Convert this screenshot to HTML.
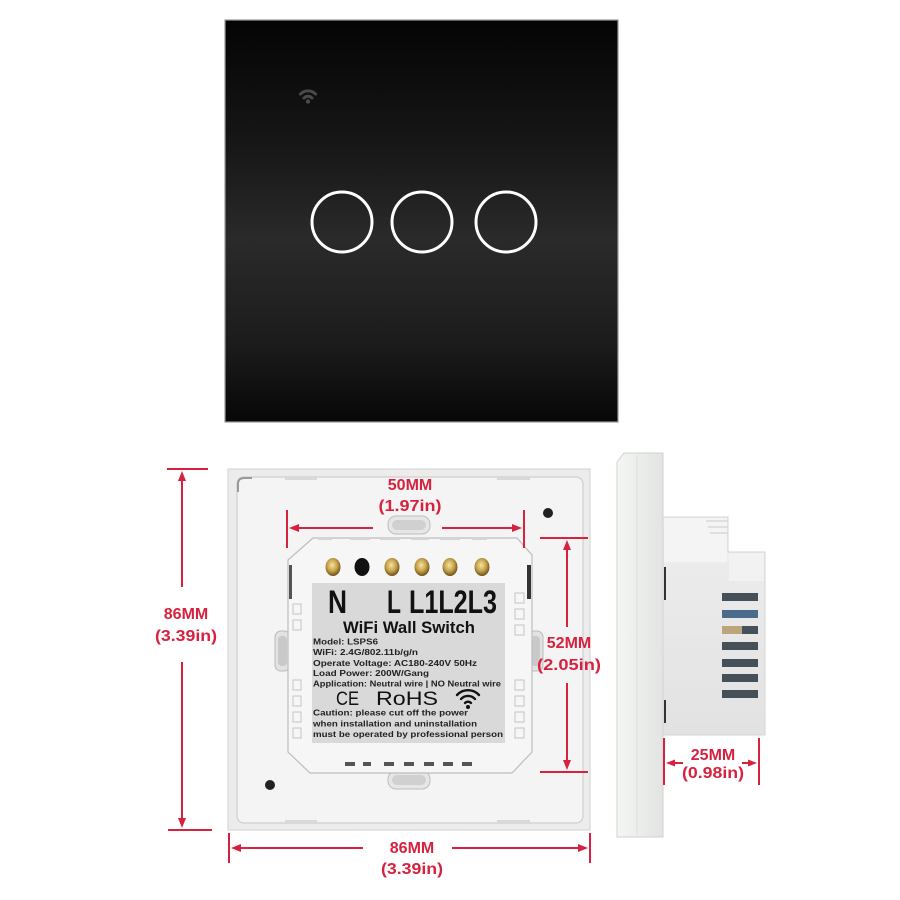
<!DOCTYPE html>
<html><head><meta charset="utf-8"><style>
html,body{margin:0;padding:0;background:#fff;}
svg{display:block;}
text{font-family:"Liberation Sans",sans-serif;}
</style></head><body>
<svg width="900" height="900" viewBox="0 0 900 900" xmlns="http://www.w3.org/2000/svg">
<defs>
<linearGradient id="glass" x1="0" y1="0" x2="0" y2="1">
<stop offset="0" stop-color="#040404"/>
<stop offset="0.3" stop-color="#161616"/>
<stop offset="0.55" stop-color="#2a2a2a"/>
<stop offset="0.8" stop-color="#1c1c1c"/>
<stop offset="1" stop-color="#070707"/>
</linearGradient>
<radialGradient id="brass" cx="0.45" cy="0.4" r="0.6">
<stop offset="0" stop-color="#f4e3a0"/>
<stop offset="0.55" stop-color="#c9a24a"/>
<stop offset="1" stop-color="#6a5118"/>
</radialGradient>
<linearGradient id="side" x1="0" y1="0" x2="1" y2="0">
<stop offset="0" stop-color="#f4f6f4"/>
<stop offset="1" stop-color="#e2e4e2"/>
</linearGradient>
<linearGradient id="body" x1="0" y1="0" x2="0" y2="1">
<stop offset="0" stop-color="#eeeeee"/>
<stop offset="1" stop-color="#e2e2e2"/>
</linearGradient>
</defs>

<!-- Top black glass panel -->
<rect x="225" y="20" width="393" height="402" fill="url(#glass)" stroke="#9a9a9a" stroke-width="1.2"/>
<g fill="none" stroke="#4a4a4a" stroke-width="3" stroke-linecap="round">
<path d="M300.5,94 A10.5,10.5 0 0 1 315.5,94"/>
<path d="M304,98 A5.5,5.5 0 0 1 312,98"/>
</g>
<circle cx="308" cy="101.5" r="2.2" fill="#4a4a4a"/>
<g fill="none" stroke="#ffffff" stroke-width="3">
<circle cx="342" cy="222" r="30"/>
<circle cx="422" cy="222" r="30"/>
<circle cx="506" cy="222" r="30"/>
</g>

<!-- Back plate -->
<rect x="228" y="469" width="362" height="361" fill="#ececec" stroke="#d2d2d2" stroke-width="1"/>
<rect x="237" y="477" width="346" height="346" rx="7" fill="#f4f4f4" stroke="#cfcfcf" stroke-width="1.2"/>
<path d="M238,492 L238,484 Q238,478 244,478 L252,478" fill="none" stroke="#999" stroke-width="2"/>
<rect x="285" y="477" width="32" height="3" fill="#d8d8d8"/>
<rect x="497" y="477" width="33" height="3" fill="#d8d8d8"/>
<rect x="285" y="820" width="32" height="3" fill="#d8d8d8"/>
<rect x="497" y="820" width="33" height="3" fill="#d8d8d8"/>
<circle cx="548" cy="513" r="5" fill="#222"/>
<circle cx="270" cy="785" r="5" fill="#222"/>

<!-- slots -->
<rect x="388" y="516" width="42" height="18" rx="8" fill="#e6e6e6" stroke="#bdbdbd"/>
<rect x="392" y="520" width="34" height="10" rx="5" fill="#d0d0d0"/>
<rect x="388" y="771" width="42" height="18" rx="8" fill="#e6e6e6" stroke="#bdbdbd"/>
<rect x="392" y="775" width="34" height="10" rx="5" fill="#d0d0d0"/>
<rect x="275" y="631" width="15" height="40" rx="6" fill="#e2e2e2" stroke="#bbb"/>
<rect x="278" y="636" width="9" height="30" rx="4" fill="#c9c9c9"/>
<rect x="528" y="631" width="15" height="40" rx="6" fill="#e2e2e2" stroke="#bbb"/>
<rect x="531" y="636" width="9" height="30" rx="4" fill="#c9c9c9"/>

<!-- Module -->
<polygon points="313,538 517,538 532,555 532,752 512,773 310,773 288,752 288,560" fill="#f6f6f6" stroke="#bdbdbd" stroke-width="1.2"/>
<g fill="#d4d4d4">
<rect x="318" y="537" width="14" height="3"/><rect x="350" y="537" width="20" height="3"/>
<rect x="380" y="537" width="20" height="3"/><rect x="411" y="537" width="18" height="3"/>
<rect x="440" y="537" width="20" height="3"/><rect x="472" y="537" width="15" height="3"/>
</g>
<g fill="#555">
<rect x="345" y="762" width="10" height="4"/><rect x="363" y="762" width="8" height="4"/>
<rect x="384" y="762" width="10" height="4"/><rect x="404" y="762" width="10" height="4"/>
<rect x="424" y="762" width="10" height="4"/><rect x="443" y="762" width="10" height="4"/>
<rect x="462" y="762" width="10" height="4"/>
</g>
<rect x="289" y="565" width="3" height="34" fill="#555"/>
<rect x="527" y="565" width="4" height="34" fill="#333"/>
<g fill="none" stroke="#c4c4c4" stroke-width="1">
<rect x="293" y="604" width="8" height="10"/><rect x="293" y="620" width="8" height="10"/>
<rect x="293" y="680" width="8" height="10"/><rect x="293" y="696" width="8" height="10"/>
<rect x="293" y="712" width="8" height="10"/><rect x="293" y="728" width="8" height="10"/>
<rect x="515" y="593" width="9" height="10"/><rect x="515" y="609" width="9" height="10"/>
<rect x="515" y="625" width="9" height="10"/><rect x="515" y="680" width="9" height="10"/>
<rect x="515" y="696" width="9" height="10"/><rect x="515" y="712" width="9" height="10"/>
<rect x="515" y="728" width="9" height="10"/>
</g>

<!-- terminals -->
<ellipse cx="333" cy="567" rx="7.5" ry="9" fill="url(#brass)"/>
<ellipse cx="362" cy="567" rx="7.5" ry="9" fill="#111"/>
<ellipse cx="392" cy="567" rx="7.5" ry="9" fill="url(#brass)"/>
<ellipse cx="422" cy="567" rx="7.5" ry="9" fill="url(#brass)"/>
<ellipse cx="450" cy="567" rx="7.5" ry="9" fill="url(#brass)"/>
<ellipse cx="482" cy="567" rx="7.5" ry="9" fill="url(#brass)"/>

<!-- Label -->
<rect x="312" y="583" width="193" height="160" fill="#d9d9d9"/>
<text x="328" y="613" font-size="32" font-weight="bold" fill="#111" textLength="19" lengthAdjust="spacingAndGlyphs">N</text>
<text x="387" y="613" font-size="32" font-weight="bold" fill="#111" textLength="14" lengthAdjust="spacingAndGlyphs">L</text>
<text x="409" y="613" font-size="32" font-weight="bold" fill="#111" textLength="88" lengthAdjust="spacingAndGlyphs">L1L2L3</text>
<text x="343" y="633" font-size="16.5" font-weight="bold" fill="#111" textLength="132" lengthAdjust="spacingAndGlyphs">WiFi Wall Switch</text>
<g font-size="8.6" font-weight="bold" fill="#222">
<text x="313" y="644.5" textLength="65" lengthAdjust="spacingAndGlyphs">Model: LSPS6</text>
<text x="313" y="655" textLength="105" lengthAdjust="spacingAndGlyphs">WiFi:  2.4G/802.11b/g/n</text>
<text x="313" y="666" textLength="164" lengthAdjust="spacingAndGlyphs">Operate Voltage:  AC180-240V 50Hz</text>
<text x="313" y="676" textLength="116" lengthAdjust="spacingAndGlyphs">Load Power:  200W/Gang</text>
<text x="313" y="686.5" textLength="188" lengthAdjust="spacingAndGlyphs">Application:  Neutral wire | NO Neutral wire</text>
<text x="313" y="715.5" textLength="155" lengthAdjust="spacingAndGlyphs">Caution:  please cut off the power</text>
<text x="313" y="726.5" textLength="164" lengthAdjust="spacingAndGlyphs">when installation and uninstallation</text>
<text x="313" y="737" textLength="190" lengthAdjust="spacingAndGlyphs">must be operated by professional person</text>
</g>
<text x="336" y="705" font-size="19" fill="#111" textLength="23" lengthAdjust="spacingAndGlyphs">CE</text>
<text x="376" y="705" font-size="19" fill="#111" textLength="62" lengthAdjust="spacingAndGlyphs">RoHS</text>
<g fill="none" stroke="#111" stroke-width="2.4" stroke-linecap="round">
<path d="M457,695 A15,15 0 0 1 479,695"/>
<path d="M461,699 A9.5,9.5 0 0 1 475,699"/>
<path d="M465,703 A4,4 0 0 1 471,703"/>
</g>
<circle cx="468" cy="707" r="2" fill="#111"/>

<!-- Side view -->
<polygon points="617,462 624,453 663,453 663,837 617,837" fill="url(#side)" stroke="#cfd2cf" stroke-width="1"/>
<line x1="637" y1="455" x2="637" y2="835" stroke="#dde0dd" stroke-width="1"/>
<polygon points="663,517 728,517 728,552 765,552 765,735 663,735" fill="url(#body)" stroke="#d4d4d4" stroke-width="1"/>
<rect x="664" y="518" width="63" height="44" fill="#f4f4f4"/>
<rect x="729" y="553" width="35" height="28" fill="#f2f2f2"/>
<g stroke="#d8d8d8" stroke-width="1.5">
<line x1="706" y1="521" x2="728" y2="521"/><line x1="708" y1="527" x2="728" y2="527"/>
<line x1="710" y1="533" x2="728" y2="533"/>
</g>
<rect x="664" y="567" width="2" height="33" fill="#333"/>
<rect x="664" y="700" width="2" height="23" fill="#333"/>
<g fill="#465058">
<rect x="722" y="593" width="36" height="8"/>
<rect x="722" y="610" width="36" height="8" fill="#4a6b8a"/>
<rect x="722" y="626" width="36" height="8"/>
<rect x="722" y="642" width="36" height="8"/>
<rect x="722" y="659" width="36" height="8"/>
<rect x="722" y="674" width="36" height="8"/>
<rect x="722" y="690" width="36" height="8"/>
</g>
<rect x="722" y="626" width="20" height="8" fill="#bca57a"/>

<!-- Dimensions (red) -->
<g stroke="#d7223f" stroke-width="2" fill="none">
<line x1="287" y1="510" x2="287" y2="548"/><line x1="524" y1="510" x2="524" y2="548"/>
<line x1="295" y1="528" x2="373" y2="528"/><line x1="442" y1="528" x2="516" y2="528"/>
<line x1="540" y1="538" x2="588" y2="538"/><line x1="540" y1="772" x2="588" y2="772"/>
<line x1="567" y1="546" x2="567" y2="627"/><line x1="567" y1="683" x2="567" y2="764"/>
<line x1="167" y1="469" x2="208" y2="469"/><line x1="168" y1="830" x2="212" y2="830"/>
<line x1="182" y1="477" x2="182" y2="587"/><line x1="182" y1="662" x2="182" y2="820"/>
<line x1="229" y1="833" x2="229" y2="863"/><line x1="590" y1="833" x2="590" y2="863"/>
<line x1="238" y1="848" x2="363" y2="848"/><line x1="452" y1="848" x2="580" y2="848"/>
<line x1="664" y1="738" x2="664" y2="785"/><line x1="759" y1="738" x2="759" y2="785"/>
<line x1="672" y1="763" x2="683" y2="763"/><line x1="742" y1="763" x2="751" y2="763"/>
</g>
<g fill="#d7223f">
<polygon points="289,528 299,524 299,532"/>
<polygon points="522,528 512,524 512,532"/>
<polygon points="567,540 563,550 571,550"/>
<polygon points="567,770 563,760 571,760"/>
<polygon points="182,471 178,481 186,481"/>
<polygon points="182,828 178,818 186,818"/>
<polygon points="231,848 241,844 241,852"/>
<polygon points="588,848 578,844 578,852"/>
<polygon points="666,763 675,759.5 675,766.5"/>
<polygon points="757,763 748,759.5 748,766.5"/>
</g>
<g fill="#d7223f" font-weight="bold" text-anchor="middle" font-size="16">
<text x="410" y="490">50MM</text>
<text x="410" y="511" textLength="63" lengthAdjust="spacingAndGlyphs">(1.97in)</text>
<text x="569" y="648">52MM</text>
<text x="569" y="670" textLength="64" lengthAdjust="spacingAndGlyphs">(2.05in)</text>
<text x="186" y="619">86MM</text>
<text x="186" y="641" textLength="62" lengthAdjust="spacingAndGlyphs">(3.39in)</text>
<text x="412" y="853">86MM</text>
<text x="412" y="874" textLength="62" lengthAdjust="spacingAndGlyphs">(3.39in)</text>
<text x="713" y="760">25MM</text>
<text x="713" y="778" textLength="62" lengthAdjust="spacingAndGlyphs">(0.98in)</text>
</g>
</svg>
</body></html>
